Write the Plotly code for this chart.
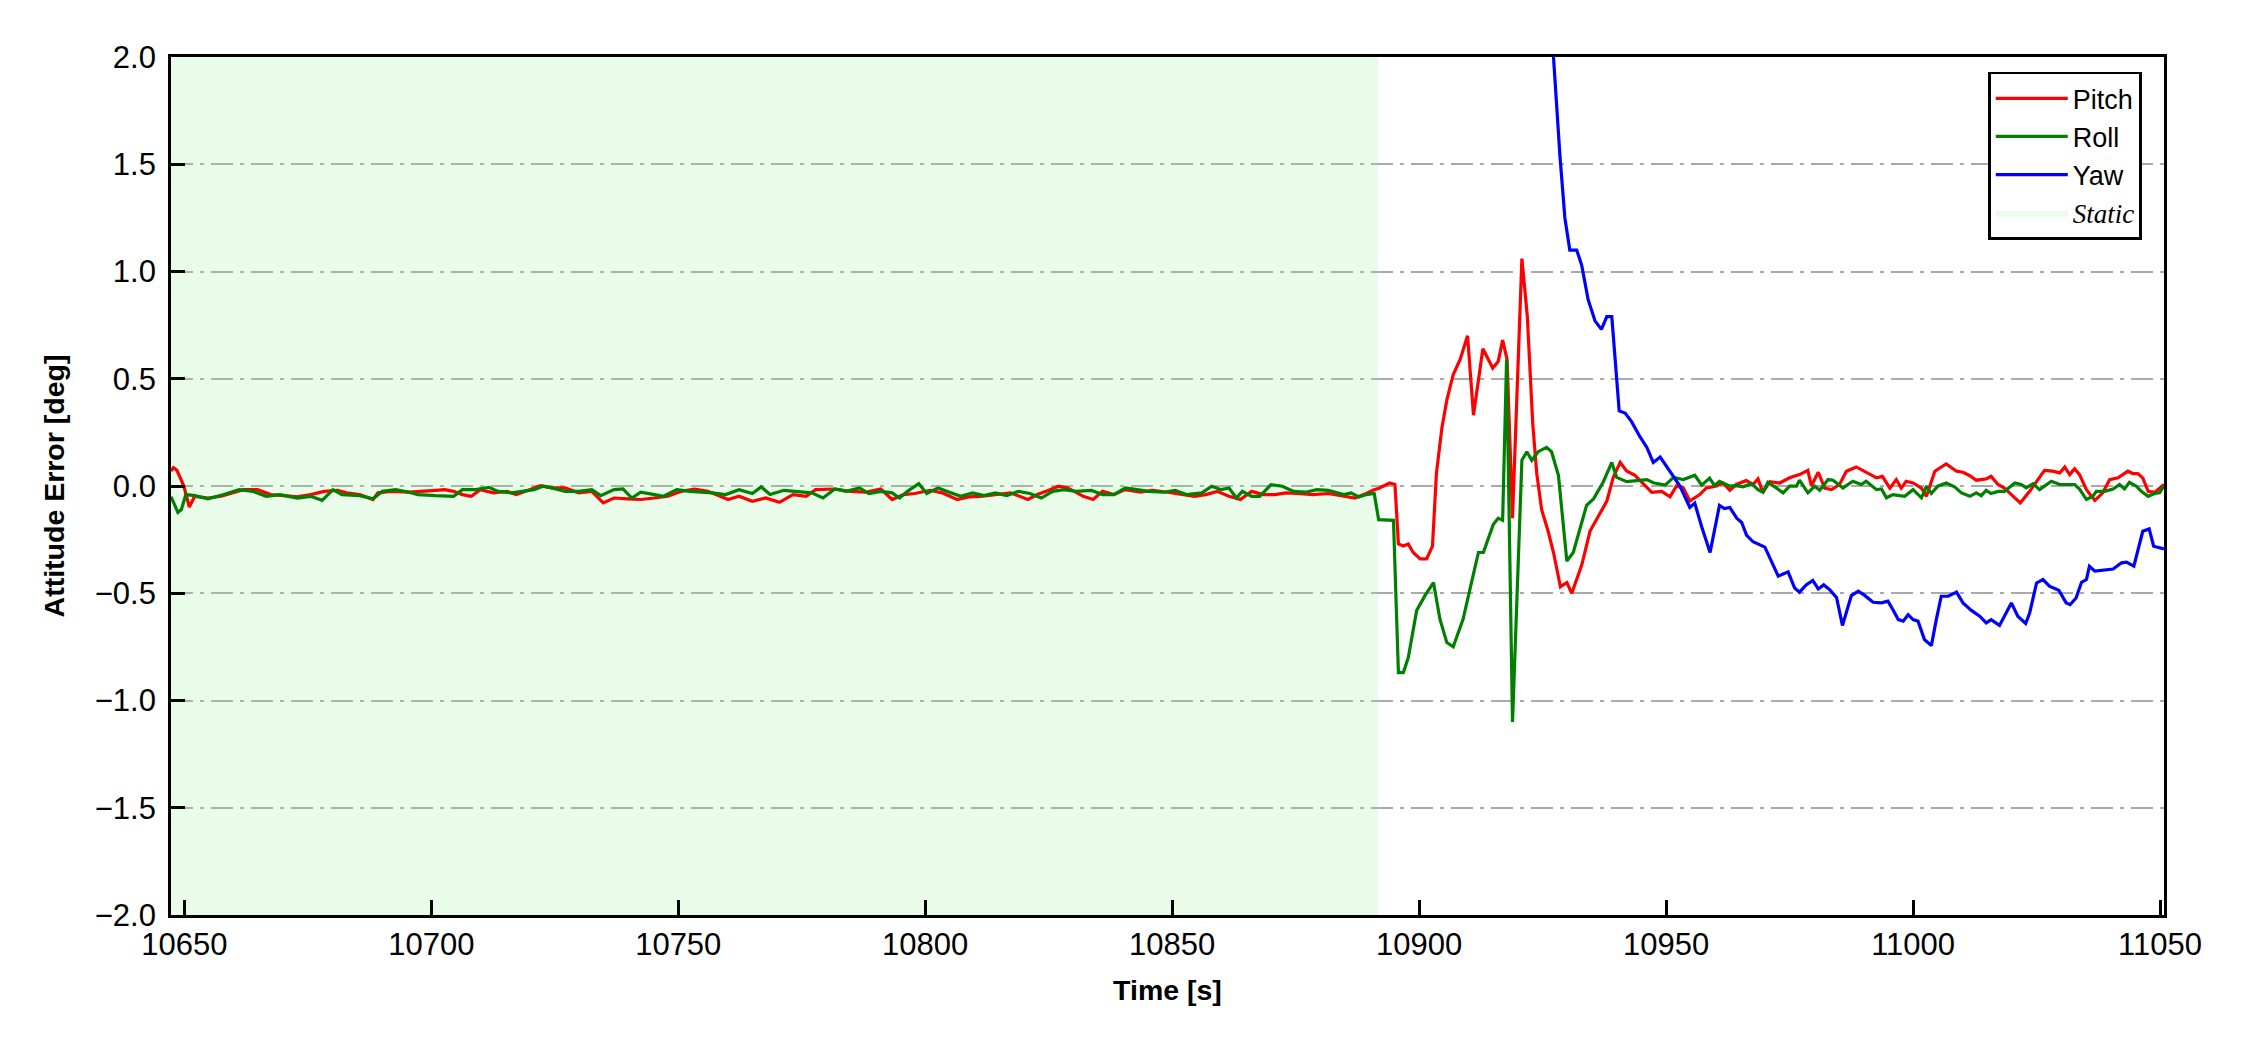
import plotly.graph_objects as go

# ---------------- data ----------------
pitch_t = [10647.3, 10647.8, 10648.5, 10649.9, 10651.0, 10652.1, 10654.8, 10657.5, 10660.2, 10662.0,
           10664.8, 10667.5, 10670.2, 10672.9, 10675.6, 10678.3, 10681.0, 10682.8, 10685.5, 10688.2,
           10689.2, 10691.9, 10695.5, 10697.3, 10700.9, 10702.7, 10704.5, 10706.3, 10708.1, 10709.9,
           10712.6, 10715.3, 10717.2, 10719.9, 10722.1, 10724.4, 10727.1, 10729.8, 10732.5, 10734.8,
           10737.0, 10739.7, 10742.4, 10745.2, 10747.9, 10750.6, 10753.3, 10756.0, 10758.7, 10760.1,
           10762.3, 10765.0, 10767.7, 10770.5, 10773.2, 10775.9, 10777.8, 10781.7, 10784.8, 10787.9,
           10791.0, 10793.3, 10795.6, 10797.9, 10801.0, 10803.4, 10806.5, 10808.8, 10811.1, 10814.2,
           10817.3, 10820.8, 10822.7, 10825.0, 10827.0, 10828.9, 10832.0, 10834.0, 10835.9, 10838.2,
           10840.5, 10843.6, 10846.0, 10849.1, 10852.2, 10854.5, 10856.8, 10859.1, 10861.5, 10863.8,
           10866.1, 10868.4, 10870.8, 10873.1, 10875.4, 10878.5, 10881.6, 10884.7, 10887.0, 10889.3,
           10890.9, 10892.0, 10894.0, 10895.1, 10895.8, 10896.8, 10897.8, 10898.8, 10900.2, 10901.5,
           10902.7, 10903.5, 10904.6, 10905.6, 10906.9, 10908.3, 10909.8, 10911.0, 10912.9, 10914.9,
           10916.0, 10916.9, 10917.8, 10918.9, 10920.8, 10921.9, 10923.0, 10923.8, 10924.8, 10926.1,
           10927.2, 10928.6, 10929.9, 10930.9, 10932.9, 10934.6, 10936.3, 10938.0, 10939.3, 10940.7,
           10942.0, 10943.7, 10945.4, 10947.1, 10949.1, 10950.8, 10952.1, 10953.5, 10954.8, 10956.8,
           10958.1, 10960.2, 10961.5, 10962.9, 10964.2, 10966.2, 10967.6, 10968.6, 10969.6, 10971.0,
           10973.0, 10975.0, 10977.0, 10978.7, 10979.4, 10980.8, 10982.1, 10983.5, 10985.1, 10986.5,
           10988.5, 10990.5, 10992.6, 10993.8, 10995.3, 10996.6, 10997.6, 10998.6, 11000.0, 11001.7,
           11002.7, 11004.4, 11006.7, 11008.8, 11010.1, 11011.5, 11012.8, 11014.8, 11015.8, 11017.2,
           11018.5, 11019.9, 11021.7, 11023.6, 11025.0, 11026.6, 11028.3, 11029.7, 11030.7, 11031.7,
           11032.7, 11033.7, 11035.1, 11036.8, 11038.4, 11039.8, 11041.5, 11043.5, 11044.5, 11045.5,
           11046.5, 11047.6, 11048.9, 11050.3, 11050.8]
pitch_v = [0.07, 0.085, 0.073, 0.0, -0.098, -0.048, -0.056, -0.048, -0.029, -0.017,
           -0.017, -0.040, -0.045, -0.051, -0.040, -0.025, -0.020, -0.032, -0.040, -0.063,
           -0.032, -0.025, -0.029, -0.025, -0.020, -0.017, -0.025, -0.040, -0.048, -0.017,
           -0.032, -0.025, -0.040, -0.017, 0.002, -0.009, -0.009, -0.032, -0.025, -0.079,
           -0.056, -0.060, -0.063, -0.056, -0.048, -0.025, -0.014, -0.025, -0.048, -0.063,
           -0.048, -0.071, -0.056, -0.076, -0.040, -0.048, -0.017, -0.014, -0.025, -0.029,
           -0.014, -0.063, -0.040, -0.035, -0.020, -0.032, -0.063, -0.051, -0.048, -0.040,
           -0.032, -0.063, -0.040, -0.020, -0.001, -0.009, -0.048, -0.063, -0.025, -0.040,
           -0.017, -0.029, -0.020, -0.029, -0.040, -0.048, -0.040, -0.025, -0.048, -0.063,
           -0.025, -0.040, -0.040, -0.032, -0.035, -0.040, -0.035, -0.045, -0.056, -0.035,
           -0.017, -0.009, 0.014, 0.007, -0.27, -0.28, -0.27, -0.31, -0.34, -0.34,
           -0.28, 0.06, 0.27, 0.40, 0.52, 0.59, 0.70, 0.33, 0.64, 0.55,
           0.58, 0.68, 0.59, -0.15, 1.06, 0.79, 0.29, 0.06, -0.11, -0.21,
           -0.31, -0.47, -0.45, -0.50, -0.37, -0.21, -0.14, -0.07, 0.04, 0.11,
           0.07, 0.05, 0.01, -0.03, -0.025, -0.05, 0.0, -0.01, -0.07, -0.04,
           -0.01, 0.0, 0.014, -0.02, 0.007, 0.025, 0.007, 0.033, -0.03, 0.02,
           0.014, 0.038, 0.053, 0.073, 0.0, 0.064, -0.01, -0.017, 0.007, 0.069,
           0.089, 0.064, 0.038, 0.045, -0.01, 0.03, -0.01, 0.022, 0.014, -0.01,
           -0.048, 0.069, 0.103, 0.069, 0.064, 0.048, 0.027, 0.033, 0.045, 0.007,
           -0.01, -0.04, -0.079, -0.025, 0.022, 0.073, 0.069, 0.061, 0.089, 0.053,
           0.08, 0.053, -0.017, -0.067, -0.032, 0.03, 0.038, 0.069, 0.058, 0.058,
           0.038, -0.025, -0.03, 0.0, 0.007]

roll_t = [10647.3, 10648.7, 10649.4, 10650.3, 10652.1, 10654.8, 10658.0, 10661.1, 10663.9, 10666.6,
          10669.3, 10672.9, 10675.6, 10677.9, 10680.1, 10681.9, 10685.5, 10688.2, 10690.1, 10692.8,
          10695.5, 10697.3, 10700.9, 10704.5, 10706.3, 10709.0, 10711.7, 10713.5, 10716.3, 10720.8,
          10722.6, 10724.4, 10727.1, 10729.8, 10732.5, 10734.3, 10737.0, 10738.8, 10740.6, 10742.4,
          10745.2, 10747.0, 10749.7, 10752.4, 10756.9, 10759.6, 10762.3, 10765.0, 10766.8, 10768.6,
          10771.4, 10774.1, 10777.0, 10779.3, 10781.7, 10784.0, 10786.7, 10788.6, 10791.0, 10793.3,
          10794.8, 10796.4, 10798.7, 10800.3, 10802.6, 10804.9, 10807.2, 10809.6, 10811.9, 10814.2,
          10816.5, 10818.9, 10821.2, 10823.5, 10825.8, 10828.1, 10830.5, 10833.6, 10835.9, 10838.2,
          10840.5, 10842.9, 10845.2, 10848.3, 10850.6, 10852.9, 10856.0, 10858.0, 10859.9, 10861.5,
          10863.0, 10864.2, 10866.1, 10867.7, 10870.0, 10872.3, 10874.6, 10877.0, 10879.3, 10881.6,
          10884.7, 10886.2, 10887.8, 10889.3, 10890.9, 10891.8, 10894.8, 10895.8, 10896.8, 10897.8,
          10899.5, 10901.2, 10902.9, 10904.2, 10905.6, 10906.9, 10908.9, 10910.3, 10912.0, 10913.0,
          10915.0, 10916.0, 10916.9, 10917.7, 10918.9, 10920.8, 10921.8, 10922.8, 10924.1, 10925.8,
          10926.8, 10928.2, 10929.9, 10931.2, 10933.9, 10935.3, 10937.3, 10939.0, 10940.0, 10942.0,
          10944.7, 10946.1, 10947.4, 10949.8, 10951.5, 10953.5, 10955.8, 10957.2, 10958.8, 10959.8,
          10960.8, 10962.9, 10964.2, 10965.6, 10967.3, 10968.6, 10969.6, 10970.6, 10972.0, 10973.7,
          10975.0, 10976.4, 10977.0, 10978.7, 10980.1, 10981.1, 10982.8, 10983.8, 10985.8, 10987.8,
          10989.5, 10990.5, 10992.6, 10993.6, 10994.6, 10995.9, 10997.3, 10998.3, 11000.0, 11001.7,
          11002.7, 11003.7, 11005.0, 11006.7, 11008.4, 11009.8, 11011.5, 11012.8, 11013.8, 11014.8,
          11015.8, 11017.2, 11018.5, 11020.6, 11021.9, 11022.9, 11024.3, 11025.6, 11028.0, 11029.7,
          11031.0, 11032.7, 11033.7, 11035.1, 11036.4, 11037.1, 11038.8, 11040.5, 11041.8, 11042.8,
          11043.8, 11045.2, 11046.2, 11047.6, 11048.9, 11049.9, 11050.8]
roll_v = [-0.05, -0.123, -0.11, -0.04, -0.045, -0.06, -0.04, -0.017, -0.025, -0.048,
          -0.04, -0.056, -0.048, -0.067, -0.017, -0.04, -0.045, -0.06, -0.025, -0.017,
          -0.029, -0.04, -0.045, -0.048, -0.017, -0.017, -0.006, -0.025, -0.032, -0.017,
          -0.001, -0.009, -0.025, -0.025, -0.017, -0.045, -0.017, -0.014, -0.056, -0.029,
          -0.04, -0.048, -0.017, -0.025, -0.032, -0.04, -0.017, -0.035, -0.004, -0.04,
          -0.02, -0.025, -0.032, -0.056, -0.014, -0.025, -0.009, -0.035, -0.025, -0.032,
          -0.056, -0.025, 0.011, -0.035, -0.009, -0.029, -0.048, -0.032, -0.045, -0.032,
          -0.045, -0.025, -0.035, -0.056, -0.025, -0.017, -0.025, -0.02, -0.04, -0.04,
          -0.009, -0.017, -0.025, -0.029, -0.02, -0.04, -0.032, -0.001, -0.017, -0.009,
          -0.056, -0.025, -0.048, -0.048, 0.006, -0.001, -0.025, -0.029, -0.017, -0.02,
          -0.04, -0.032, -0.051, -0.04, -0.035, -0.157, -0.16, -0.87, -0.87, -0.80,
          -0.58, -0.51, -0.45, -0.62, -0.73, -0.75, -0.62, -0.48, -0.31, -0.31,
          -0.18, -0.15, -0.16, 0.59, -1.10, 0.12, 0.16, 0.12, 0.16, 0.18,
          0.16, 0.05, -0.35, -0.31, -0.09, -0.06, 0.02, 0.11, 0.04, 0.02,
          0.025, 0.03, 0.015, 0.004, 0.04, 0.03, 0.05, 0.004, 0.037, 0.002,
          0.022, -0.001, 0.002, -0.004, 0.011, -0.017, -0.029, 0.017, -0.004, -0.032,
          -0.001, -0.001, 0.027, -0.032, -0.001, -0.02, 0.03, 0.027, -0.009, 0.022,
          0.007, 0.022, -0.017, -0.014, -0.055, -0.04, -0.045, -0.048, -0.017, -0.055,
          -0.001, -0.035, -0.001, 0.014, -0.004, -0.032, -0.048, -0.032, -0.045, -0.02,
          -0.035, -0.025, -0.025, 0.014, 0.007, -0.009, 0.011, -0.017, 0.022, 0.007,
          0.007, 0.007, -0.014, -0.063, -0.048, -0.025, -0.025, -0.014, 0.007, -0.014,
          0.017, -0.001, -0.025, -0.048, -0.035, -0.032, 0.002]

yaw_t = [10926.0, 10927.2, 10928.5, 10929.5, 10930.5, 10931.9, 10932.9, 10934.2, 10935.6, 10936.9,
         10938.0, 10939.0, 10940.5, 10941.7, 10943.0, 10944.7, 10946.1, 10947.4, 10948.8, 10950.8,
         10952.8, 10954.8, 10955.8, 10957.2, 10958.9, 10960.8, 10961.8, 10962.9, 10964.3, 10965.3,
         10966.3, 10967.6, 10969.3, 10970.0, 10971.3, 10972.7, 10974.7, 10976.0, 10977.0, 10978.4,
         10979.7, 10980.8, 10981.9, 10983.1, 10984.5, 10985.7, 10987.5, 10988.9, 10990.2, 10991.9,
         10993.6, 10994.9, 10995.9, 10997.0, 10998.0, 10999.0, 11000.0, 11001.0, 11002.3, 11003.7,
         11004.7, 11005.7, 11007.1, 11008.8, 11010.1, 11011.8, 11013.5, 11014.8, 11015.8, 11017.5,
         11019.9, 11021.2, 11022.8, 11023.6, 11025.0, 11026.3, 11027.6, 11029.5, 11031.0, 11031.8,
         11033.0, 11034.1, 11035.1, 11035.7, 11036.8, 11038.8, 11040.5, 11042.2, 11043.2, 11044.7,
         11046.5, 11047.8, 11048.7, 11050.8]
yaw_v = [2.35, 2.0, 1.54, 1.25, 1.10, 1.10, 1.03, 0.87, 0.77, 0.73,
         0.79, 0.79, 0.35, 0.34, 0.30, 0.23, 0.18, 0.11, 0.135, 0.07,
         0.0, -0.10, -0.08, -0.19, -0.31, -0.09, -0.105, -0.10, -0.15, -0.17,
         -0.23, -0.26, -0.28, -0.285, -0.35, -0.42, -0.40, -0.475, -0.495, -0.46,
         -0.44, -0.48, -0.461, -0.483, -0.52, -0.65, -0.511, -0.49, -0.51, -0.542,
         -0.545, -0.537, -0.576, -0.623, -0.63, -0.60, -0.623, -0.63, -0.716, -0.744,
         -0.623, -0.514, -0.514, -0.495, -0.545, -0.58, -0.607, -0.638, -0.623, -0.65,
         -0.545, -0.607, -0.641, -0.592, -0.452, -0.436, -0.467, -0.486, -0.545, -0.553,
         -0.522, -0.449, -0.436, -0.374, -0.397, -0.39, -0.387, -0.358, -0.355, -0.374,
         -0.211, -0.2, -0.281, -0.293]

static_span = [10647.3, 10891.7]
x_range = [10647.3, 11050.8]
y_range = [-2.0, 2.0]
x_ticks = [10650, 10700, 10750, 10800, 10850, 10900, 10950, 11000, 11050]
y_ticks = [-2.0, -1.5, -1.0, -0.5, 0.0, 0.5, 1.0, 1.5, 2.0]

# ---------------- figure ----------------
SANS = "Liberation Sans, Arial, sans-serif"

fig = go.Figure()

fig.add_trace(go.Scatter(
    x=[static_span[0], static_span[1], static_span[1], static_span[0], static_span[0]],
    y=[y_range[0], y_range[0], y_range[1], y_range[1], y_range[0]],
    mode="lines", fill="toself", fillcolor="rgba(144,238,144,0.2)",
    line=dict(width=0, color="rgba(144,238,144,0.2)"),
    name='<span style="font-family:Liberation Serif, Times New Roman, serif"><i>Static</i></span>',
    legendrank=2000, hoverinfo="skip"))

fig.add_trace(go.Scatter(x=pitch_t, y=pitch_v, mode="lines", name="Pitch",
                         line=dict(color="#ff0000", width=3.2), legendrank=1001))
fig.add_trace(go.Scatter(x=roll_t, y=roll_v, mode="lines", name="Roll",
                         line=dict(color="#008000", width=3.2), legendrank=1002))
fig.add_trace(go.Scatter(x=yaw_t, y=yaw_v, mode="lines", name="Yaw",
                         line=dict(color="#0000ff", width=3.2), legendrank=1003))

L, R, T, B = 170.8, 86, 57.4, 134.5

fig.update_layout(
    width=2250, height=1050,
    margin=dict(l=L, r=R, t=T, b=B, pad=0),
    paper_bgcolor="white", plot_bgcolor="white",
    font=dict(family=SANS, size=31, color="black"),
    showlegend=True,
    legend=dict(
        x=0.989, y=0.983, xanchor="right", yanchor="top",
        bgcolor="white", bordercolor="black", borderwidth=2.7,
        font=dict(family=SANS, size=27, color="black"),
        itemwidth=72, tracegroupgap=0,
    ),
)

fig.update_xaxes(
    range=x_range, tickmode="array", tickvals=x_ticks, tickformat="d",
    ticks="inside", ticklen=15, tickwidth=2.5, tickcolor="black",
    showline=True, linecolor="black", linewidth=2.7, mirror=True,
    showgrid=False, zeroline=False,
    tickfont=dict(family=SANS, size=31, color="black"),
    title=dict(text="<b>Time [s]</b>", font=dict(family=SANS, size=28.5, color="black"), standoff=20),
    automargin=False,
)
fig.update_yaxes(
    range=y_range, tickmode="array", tickvals=y_ticks, tickformat=".1f",
    ticks="inside", ticklen=14, tickwidth=2.5, tickcolor="black",
    showline=True, linecolor="black", linewidth=2.7, mirror=True,
    showgrid=True, gridcolor="#aaaaaa", gridwidth=2.4, griddash="22px,7px,4px,7px",
    zeroline=False, ticklabelstandoff=6,
    tickfont=dict(family=SANS, size=31, color="black"),
    title=dict(text="<b>Attitude Error [deg]</b>", font=dict(family=SANS, size=28.5, color="black"), standoff=22),
    automargin=False,
)

fig.write_html("out.html", config={"displayModeBar": False},
               post_script="document.body.style.margin='0px';")
